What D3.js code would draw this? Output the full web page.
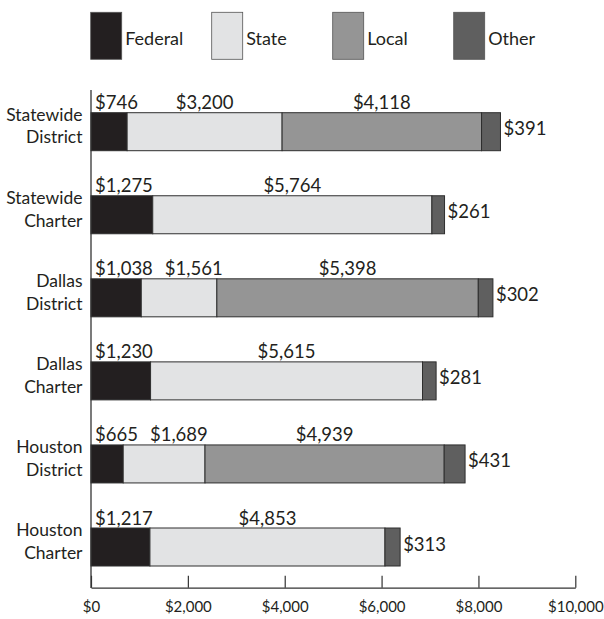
<!DOCTYPE html>
<html>
<head>
<meta charset="utf-8">
<script src="https://cdn.jsdelivr.net/npm/d3@7"></script>
<style>
  html, body { margin: 0; padding: 0; background: #fff; }
  svg { display: block; font-family: Lato, "Open Sans", sans-serif; }
</style>
</head>
<body>
<svg id="chart" width="604" height="619"></svg>
<script>
// Per-student revenue by source, dollars
const categories = [
  ["Statewide", "District"],
  ["Statewide", "Charter"],
  ["Dallas", "District"],
  ["Dallas", "Charter"],
  ["Houston", "District"],
  ["Houston", "Charter"]
];
const sources = ["Federal", "State", "Local", "Other"];
const federal = [746, 1275, 1038, 1230, 665, 1217];
const state   = [3200, 5764, 1561, 5615, 1689, 4853];
const local   = [4118, 0, 5398, 0, 4939, 0];
const other   = [391, 261, 302, 281, 431, 313];
const xTicks  = [0, 2000, 4000, 6000, 8000, 10000];

const colors = {
  Federal: "#231f20",
  State: "#e2e3e4",
  Local: "#959595",
  Other: "#5f5f5f"
};
const strokeCol = "#2e2e2e";
const fmt = d3.format(",");
const fontFam = "Lato, 'Open Sans', sans-serif";

const rows = categories.map((c, i) => ({
  key: c.join(" "), lines: c,
  Federal: federal[i], State: state[i], Local: local[i], Other: other[i]
}));

const svg = d3.select("#chart");

const x = d3.scaleLinear().domain([0, 10000]).range([91, 575.3]);
const y = d3.scaleBand()
  .domain(rows.map(r => r.key))
  .range([112.7, 566])
  .paddingInner(0.5425)
  .paddingOuter(0);

const stack = d3.stack().keys(sources);
const series = stack(rows);

// Legend
const legend = svg.append("g");
sources.forEach((s, i) => {
  const g = legend.append("g").attr("transform", `translate(${90.7 + i * 121},12.3)`);
  g.append("rect")
    .attr("width", 31).attr("height", 47)
    .attr("fill", colors[s])
    .attr("stroke", "#555").attr("stroke-width", 0.8);
  g.append("text")
    .attr("x", 34.5).attr("y", 32.5)
    .attr("font-size", 18).attr("fill", "#231f20")
    .text(s);
});

// Bars
series.forEach(layer => {
  svg.append("g").selectAll("rect")
    .data(layer.filter(d => d[1] > d[0]))
    .join("rect")
    .attr("x", d => x(d[0]))
    .attr("width", d => x(d[1]) - x(d[0]))
    .attr("y", d => y(d.data.key))
    .attr("height", y.bandwidth())
    .attr("fill", colors[layer.key])
    .attr("stroke", strokeCol)
    .attr("stroke-width", 1);
});

// Value labels: Federal/State/Local above the bar, Other to the right
const valueSize = 18.5;
const measure = svg.append("text").attr("font-size", valueSize).attr("visibility", "hidden");
function textWidth(t) { measure.text(t); return measure.node().getComputedTextLength(); }

rows.forEach((r, i) => {
  const top = y(r.key);
  let prevEnd = -Infinity;
  ["Federal", "State", "Local"].forEach(s => {
    const seg = series.find(l => l.key === s)[i];
    if (seg[1] <= seg[0]) return;
    const label = "$" + fmt(r[s]);
    const w = textWidth(label);
    let start;
    if (s === "Federal") {
      start = x(seg[0]) + 4;
    } else {
      start = (x(seg[0]) + x(seg[1])) / 2 - w / 2;
      start = Math.max(start, prevEnd + 12);
    }
    svg.append("text")
      .attr("x", start).attr("y", top - 3.5)
      .attr("font-size", valueSize).attr("fill", "#231f20")
      .text(label);
    prevEnd = start + w;
  });
  const otherSeg = series.find(l => l.key === "Other")[i];
  svg.append("text")
    .attr("x", x(otherSeg[1]) + 3)
    .attr("y", top + y.bandwidth() / 2 + 3.5)
    .attr("font-size", valueSize).attr("fill", "#231f20")
    .text("$" + fmt(r.Other));
});
measure.remove();

// Category labels
rows.forEach(r => {
  const cy = y(r.key) + y.bandwidth() / 2;
  const t = svg.append("text")
    .attr("text-anchor", "end")
    .attr("font-size", 17.5).attr("fill", "#231f20");
  t.append("tspan").attr("x", 82.5).attr("y", cy - 11).text(r.lines[0]);
  t.append("tspan").attr("x", 82.5).attr("y", cy + 11.8).text(r.lines[1]);
});

// Vertical axis line
svg.append("line")
  .attr("x1", x(0)).attr("x2", x(0))
  .attr("y1", 90).attr("y2", 588)
  .attr("stroke", "#333").attr("stroke-width", 1.3);

// Horizontal axis with inward ticks
const axisY = 587.7;
const xAxis = svg.append("g")
  .attr("transform", `translate(0,${axisY})`)
  .call(d3.axisBottom(x).tickValues(xTicks).tickSizeInner(-12).tickSizeOuter(0)
    .tickFormat(d => "$" + fmt(d)));
xAxis.select(".domain").attr("stroke", "#333").attr("stroke-width", 1.3);
xAxis.selectAll(".tick line").attr("stroke", "#333").attr("stroke-width", 1.2);
xAxis.selectAll(".tick text")
  .attr("y", 24).attr("dy", 0)
  .attr("font-size", 15).attr("font-family", fontFam)
  .attr("fill", "#231f20");
</script>
</body>
</html>
